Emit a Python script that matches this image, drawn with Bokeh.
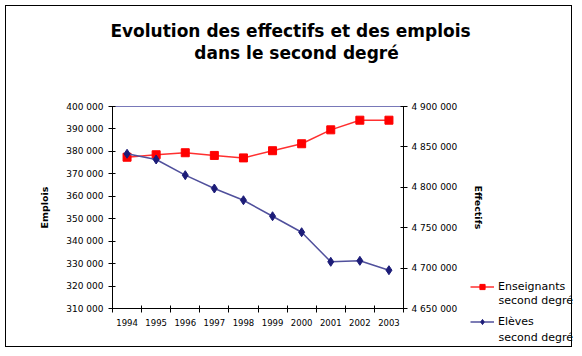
from bokeh.plotting import figure
from bokeh.models import (Range1d, LinearAxis, FixedTicker, Legend, LegendItem, Label)
from bokeh.embed import file_html
from bokeh.resources import INLINE

# ---- data ----
years = [1994, 1995, 1996, 1997, 1998, 1999, 2000, 2001, 2002, 2003]
enseignants = [377400, 378500, 379400, 378200, 377100, 380300, 383400, 389600, 393900, 393900]
eleves = [4841500, 4834400, 4815000, 4798500, 4784000, 4764200, 4744400, 4707800, 4709000, 4697400]

left_ticks = [310000, 320000, 330000, 340000, 350000, 360000, 370000, 380000, 390000, 400000]
left_labels = ["310 000", "320 000", "330 000", "340 000", "350 000", "360 000",
               "370 000", "380 000", "390 000", "400 000"]
right_ticks = [4650000, 4700000, 4750000, 4800000, 4850000, 4900000]
right_labels = ["4 650 000", "4 700 000", "4 750 000", "4 800 000", "4 850 000", "4 900 000"]
year_labels = ["1994", "1995", "1996", "1997", "1998", "1999", "2000", "2001", "2002", "2003"]
year_bounds = [1993.5, 1994.5, 1995.5, 1996.5, 1997.5, 1998.5, 1999.5, 2000.5, 2001.5, 2002.5, 2003.5]

title_lines = ["Evolution des effectifs et des emplois", "dans le second degré"]
series_names = [["Enseignants", "second degré"], ["Elèves", "second degré"]]

FONT = "DejaVu Sans"
RED_LINE, RED_MARK = "#FF3030", "#FF0000"
BLUE_LINE, BLUE_MARK = "#50509C", "#1C1C78"
W, H = 567, 342

# ---- main chart ----
p = figure(width=W, height=H, output_backend="svg", toolbar_location=None,
           x_range=Range1d(1993.5, 2003.5), y_range=Range1d(310000, 400000),
           min_border_left=106, min_border_right=170, min_border_top=100, min_border_bottom=40,
           x_axis_location=None, y_axis_location=None)
p.styles = {"border": "1px solid black", "margin-left": "5px", "margin-top": "5px"}
p.background_fill_color = "white"
p.border_fill_color = "white"
p.outline_line_color = "#7878B8"
p.outline_line_width = 1
p.xgrid.visible = False
p.ygrid.visible = False
p.extra_y_ranges = {"eff": Range1d(4650000, 4900000)}

ya = LinearAxis(ticker=FixedTicker(ticks=left_ticks, minor_ticks=[]),
                major_label_overrides=dict(zip(left_ticks, left_labels)),
                axis_label="Emplois")
yb = LinearAxis(y_range_name="eff",
                ticker=FixedTicker(ticks=right_ticks, minor_ticks=[]),
                major_label_overrides=dict(zip(right_ticks, right_labels)),
                axis_label="Effectifs")
xa = LinearAxis(ticker=FixedTicker(ticks=years, minor_ticks=year_bounds),
                major_label_overrides=dict(zip(years, year_labels)))

for ax in (ya, yb, xa):
    ax.axis_line_color = "black"
    ax.axis_line_width = 1
    ax.major_tick_line_color = "black"
    ax.major_tick_in = 3
    ax.major_tick_out = 4
    ax.minor_tick_line_color = None
    ax.major_label_text_font = FONT
    ax.major_label_text_font_size = "9px"
    ax.major_label_text_color = "black"
    ax.axis_label_text_font = FONT
    ax.axis_label_text_font_size = "9.5px"
    ax.axis_label_text_font_style = "bold"
    ax.axis_label_text_color = "black"

ya.major_label_standoff = 5
ya.axis_label_standoff = 13
yb.major_label_standoff = 4
yb.axis_label_standoff = 13

xa.major_tick_line_color = None
xa.major_tick_out = 0
xa.major_tick_in = 0
xa.minor_tick_line_color = "black"
xa.minor_tick_in = 3
xa.minor_tick_out = 4
xa.major_label_standoff = 6
xa.major_label_text_font_size = "8.5px"

p.add_layout(ya, "left")
p.add_layout(yb, "right")
p.add_layout(xa, "below")

p.line(years, enseignants, line_color=RED_LINE, line_width=1.5)
p.scatter(years, enseignants, marker="square", size=8, fill_color=RED_MARK, line_color=RED_MARK)
p.line(years, eleves, y_range_name="eff", line_color=BLUE_LINE, line_width=1.5)
p.scatter(years, eleves, y_range_name="eff", marker="diamond", size=9,
          fill_color=BLUE_MARK, line_color=BLUE_MARK)

# ---- transparent overlay for the title and the legend (same canvas size) ----
q = figure(width=W, height=H, output_backend="svg", toolbar_location=None,
           x_range=Range1d(0, 1), y_range=Range1d(0, 1),
           min_border=0, x_axis_location=None, y_axis_location=None)
q.styles = {"position": "absolute", "left": "6px", "top": "6px", "pointer-events": "none"}
q.background_fill_alpha = 0
q.border_fill_alpha = 0
q.outline_line_color = None
q.xgrid.visible = False
q.ygrid.visible = False

# legend renderers (same series; the overlay's ranges keep them off-canvas)
l1 = q.line(years, enseignants, line_color=RED_LINE, line_width=1.5)
m1 = q.scatter(years, enseignants, marker="square", size=8, fill_color=RED_MARK, line_color=RED_MARK)
l2 = q.line(years, eleves, line_color=BLUE_LINE, line_width=1.5)
m2 = q.scatter(years, eleves, marker="diamond", size=9, fill_color=BLUE_MARK, line_color=BLUE_MARK)

legend = Legend(items=[LegendItem(label=series_names[0][0], renderers=[l1, m1]),
                       LegendItem(label=series_names[1][0], renderers=[l2, m2])],
                location=(464, 20), orientation="vertical",
                border_line_color=None, background_fill_alpha=0,
                padding=0, margin=0, spacing=22,
                glyph_width=24, glyph_height=13, label_standoff=4,
                label_text_font=FONT, label_text_font_size="11px",
                label_text_color="black", label_height=13)
q.add_layout(legend, "center")

for txt, yy in ((series_names[0][1], 48), (series_names[1][1], 11)):
    q.add_layout(Label(x=492, y=yy, x_units="screen", y_units="screen", text=txt,
                       text_align="left", text_baseline="middle", text_font=FONT,
                       text_font_size="11px", text_color="black"))

t1 = Label(x=284, y=318, x_units="screen", y_units="screen", text=title_lines[0],
           text_align="center", text_baseline="middle", text_font=FONT,
           text_font_size="17px", text_font_style="bold", text_color="black")
t2 = Label(x=290, y=296, x_units="screen", y_units="screen", text=title_lines[1],
           text_align="center", text_baseline="middle", text_font=FONT,
           text_font_size="17px", text_font_style="bold", text_color="black")
q.add_layout(t1)
q.add_layout(t2)

open("out.html", "w").write(file_html([p, q], INLINE))
